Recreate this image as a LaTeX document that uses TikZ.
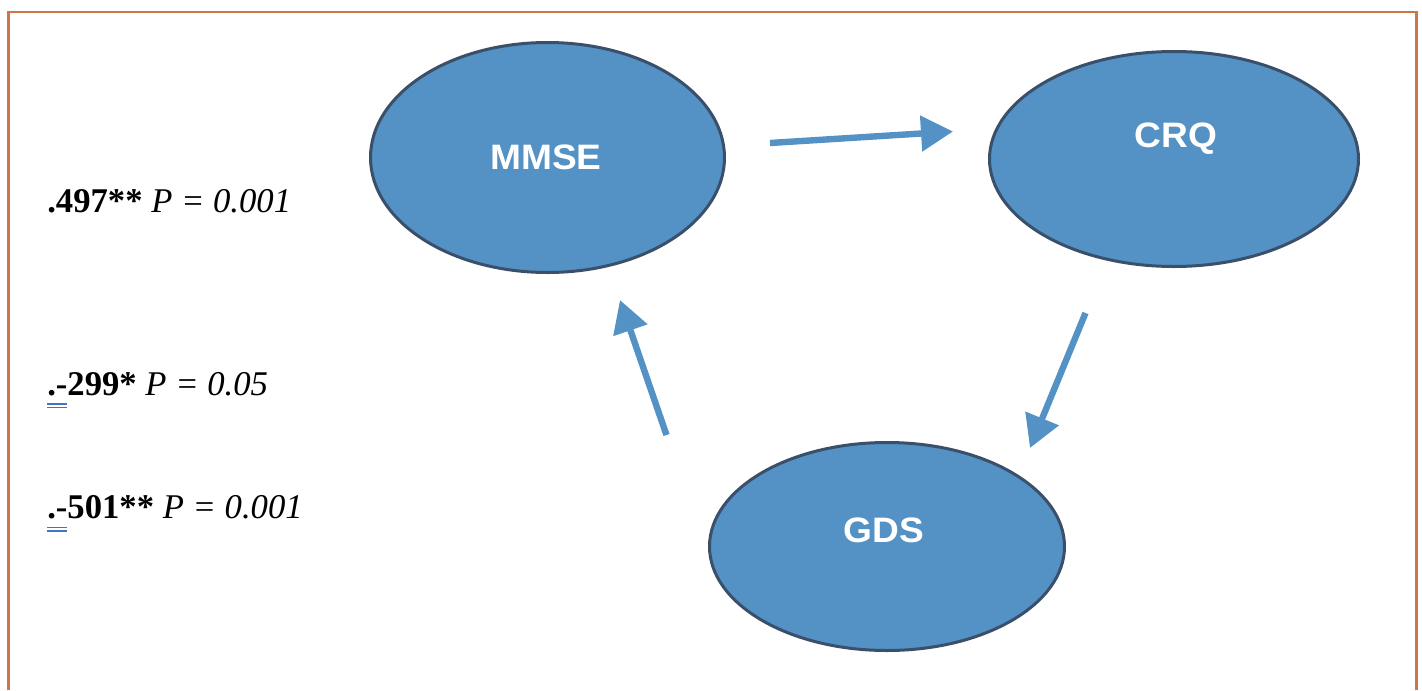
\documentclass[tikz,border=0pt]{standalone}
\usepackage{fontspec}
\setmainfont{Liberation Serif}
\newfontfamily\headfont{Liberation Sans}
\usetikzlibrary{arrows.meta,shapes.geometric,calc}

\definecolor{bubble}{RGB}{84,145,197}
\definecolor{bubbleedge}{RGB}{58,80,106}
\definecolor{framecol}{RGB}{208,118,70}
\definecolor{markblue}{RGB}{68,114,196}

\tikzset{
  bubblenode/.style={ellipse, draw=bubbleedge, fill=bubble, line width=2.25pt, inner sep=0pt},
  bubbletext/.style={text=white, inner sep=0pt, font=\headfont\bfseries\fontsize{26.5}{30}\selectfont},
  flow/.style={draw=bubble, line width=4.8pt, -{Triangle[length=24pt,width=26pt]}},
  stat/.style={anchor=base west, inner sep=0pt, font=\fontsize{26}{30}\selectfont},
  dblline/.style={draw=markblue, line width=1pt}
}

\begin{document}
\begin{tikzpicture}[x=0.75pt,y=-0.75pt]
  \useasboundingbox (0,0) rectangle (1422,690);

  % open frame (no bottom edge)
  \draw[framecol, line width=1.6pt] (8.5,690) -- (8.5,12) -- (1416.5,12) -- (1416.5,690);

  % the three measures
  \node[bubblenode, minimum width=265.5pt, minimum height=172.5pt] (mmse) at (547.5,157.5) {};
  \node[bubblenode, minimum width=276.75pt, minimum height=161.25pt] (crq) at (1174,159) {};
  \node[bubblenode, minimum width=266.25pt, minimum height=156pt] (gds) at (887,546.5) {};

  \node[bubbletext] (mmsetxt) at (546,157.5) {\scalebox{1.05}[1]{MMSE}};
  \node[bubbletext] (crqtxt) at (1176,138.5) {\scalebox{1.05}[1]{CRQ}};
  \node[bubbletext] (gdstxt) at (884,530.5) {\scalebox{1.05}[1]{GDS}};

  % arrow end points
  \coordinate (m2c) at (770,143);
  \coordinate (c2m) at (953,131.5);
  \coordinate (c2g) at (1085.5,313);
  \coordinate (g2c) at (1030,448);
  \coordinate (g2m) at (666.5,435);
  \coordinate (m2g) at (620,300);

  \draw[flow] (m2c) -- (c2m);
  \draw[flow] (c2g) -- (g2c);
  \draw[flow] (g2m) -- (m2g);

  % correlation labels
  \node[stat] (lbl1) at (47,212) {\textbf{.497**} \textit{P = 0.001}};
  \node[stat] (lbl2) at (47,395) {\textbf{.-299*} \textit{P = 0.05}};
  \node[stat] (lbl3) at (47,518.5) {\textbf{.-501**} \textit{P = 0.001}};

  % double underline marks under the leading dots
  \draw[dblline] ($(lbl2.base west)+(0,9)$) -- +(20,0);
  \draw[dblline] ($(lbl2.base west)+(0,12.5)$) -- +(20,0);
  \draw[dblline] ($(lbl3.base west)+(0,9)$) -- +(20,0);
  \draw[dblline] ($(lbl3.base west)+(0,12.5)$) -- +(20,0);
\end{tikzpicture}
\end{document}
